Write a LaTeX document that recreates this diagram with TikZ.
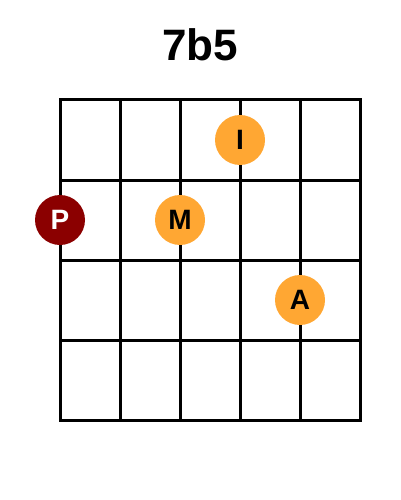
\documentclass[tikz,border=0pt]{standalone}
\usepackage{fontspec}
\setmainfont{Liberation Sans}
\definecolor{dotorange}{HTML}{FFA733}
\definecolor{dotred}{HTML}{8B0000}
\tikzset{
  gridline/.style={line width=3pt, line cap=rect},
  finger/.style={circle, minimum size=50pt, inner sep=0pt, font=\fontsize{28}{28}\selectfont\bfseries},
  orangedot/.style={finger, fill=dotorange, text=black},
  reddot/.style={finger, fill=dotred, text=white},
}
\begin{document}
\begin{tikzpicture}[x=1pt,y=-1pt]
\useasboundingbox (0,0) rectangle (400,500);
\node (title) at (200,45) {\fontsize{44}{44}\selectfont\bfseries 7b5};
\foreach \x in {60,120,180,240,300,360} \draw[gridline] (\x,100) -- (\x,420);
\foreach \y in {100,180,260,340,420} \draw[gridline] (60,\y) -- (360,\y);
\node[orangedot] (I) at (240,140) {I};
\node[reddot] (P) at (60,220) {P};
\node[orangedot] (M) at (180,220) {M};
\node[orangedot] (A) at (300,300) {A};
\end{tikzpicture}
\end{document}
